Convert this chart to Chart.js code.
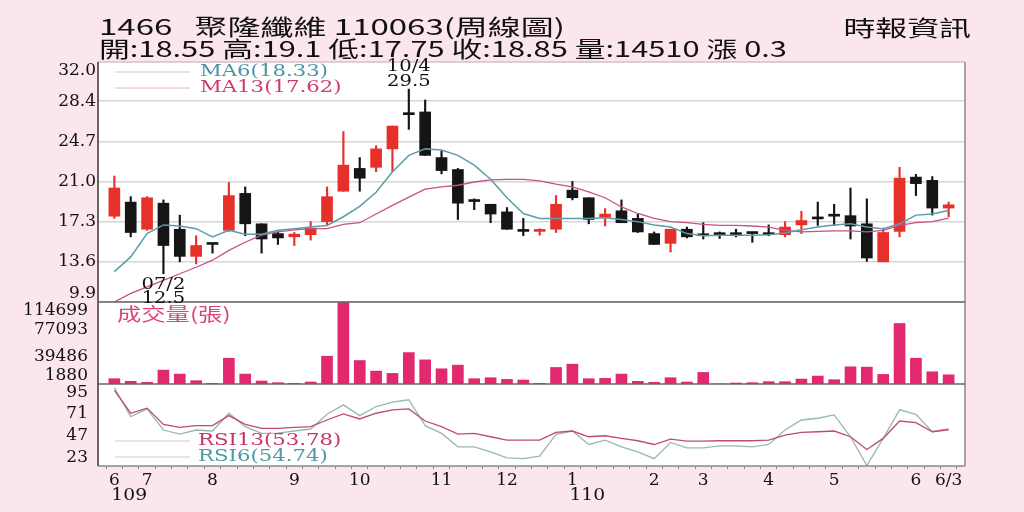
<!DOCTYPE html>
<html>
<head>
<meta charset="utf-8">
<script src="https://cdn.jsdelivr.net/npm/chart.js@4.4.0/dist/chart.umd.min.js"></script>
<style>
html, body { margin: 0; padding: 0; background: #fce6ee; }
#wrap { position: relative; width: 1024px; height: 512px; overflow: hidden; }
canvas { position: absolute; left: 0; top: 0; }
.hd { position: absolute; font-family: 'Noto Sans CJK TC'; font-size: 22px; line-height: 22px; color: #111;
      white-space: pre; transform: scaleX(1.4); transform-origin: 0 0; }
</style>
</head>
<body>
<div id="wrap">
  <canvas id="grafico" width="1024" height="512"></canvas>
  <div class="hd" style="left:99px;top:14px;transform:scaleX(1.5)">1466   聚隆纖維 110063(周線圖)</div>
  <div class="hd" style="left:99px;top:36px">開:18.55 高:19.1 低:17.75 收:18.85 量:14510 漲 0.3</div>
  <div class="hd" style="right:53px;top:15px;transform:scaleX(1.45);transform-origin:100% 0">時報資訊</div>
</div>
<script>
// 週線資料, 109/6 ~ 110/6/3
const monthIdx = [0, 2, 6, 11, 15, 20, 24, 28, 33, 36, 40, 44, 49, 51];
const monthText = ['6', '7', '8', '9', '10', '11', '12', '1', '2', '3', '4', '5', '6', '6/3'];
const yearIdx = [0, 28];
const yearText = ['109', '110'];

const opens = [17.8, 19.1, 16.6, 19.0, 16.6, 14.1, 15.2, 16.5, 19.9, 17.1,
  16.2, 15.9, 16.1, 17.3, 20.1, 22.2, 22.3, 24.0, 27.15, 27.4,
  23.2, 22.1, 19.15, 18.9, 18.2, 16.4, 16.4, 16.6, 20.2, 19.5,
  17.7, 18.3, 17.6, 16.2, 15.3, 16.6, 16.0, 16.1, 16.1, 16.2,
  16.1, 16.1, 17.0, 17.55, 17.8, 17.85, 17.1, 13.6, 16.4, 21.4,
  21.1, 18.55];
const highs = [21.5, 19.6, 19.6, 19.3, 17.9, 16.0, 15.3, 20.9, 20.5, 17.1,
  16.35, 16.3, 17.3, 20.5, 25.6, 23.2, 24.3, 26.1, 29.5, 28.5,
  23.8, 22.2, 19.4, 18.9, 18.6, 17.6, 16.65, 19.7, 21.0, 19.5,
  18.5, 19.3, 18.0, 16.35, 16.6, 16.8, 17.2, 16.35, 16.6, 16.35,
  17.0, 17.3, 18.25, 19.1, 18.9, 20.4, 19.4, 16.7, 22.3, 21.65,
  21.45, 19.1];
const lows = [17.6, 15.9, 16.5, 12.5, 13.6, 13.4, 14.4, 16.4, 16.0, 14.4,
  15.2, 15.1, 15.6, 17.0, 20.1, 20.1, 21.9, 21.9, 25.8, 23.4,
  21.7, 17.5, 18.4, 17.2, 16.6, 16.0, 16.05, 16.3, 19.3, 17.1,
  16.9, 17.2, 16.3, 15.2, 14.5, 15.8, 15.7, 15.75, 15.9, 15.4,
  16.0, 15.9, 16.2, 16.95, 16.95, 15.7, 13.65, 13.6, 15.9, 19.7,
  17.9, 17.75];
const closes = [20.4, 16.3, 19.5, 15.1, 14.1, 15.1, 15.2, 19.7, 17.1, 15.7,
  15.8, 16.15, 16.7, 19.6, 22.5, 21.3, 24.0, 26.1, 27.15, 23.4,
  22.0, 19.0, 19.15, 18.0, 16.6, 16.4, 16.5, 18.9, 19.5, 17.5,
  18.0, 17.2, 16.35, 15.2, 16.6, 15.9, 16.0, 16.1, 16.1, 16.2,
  16.1, 16.8, 17.4, 17.55, 17.8, 16.9, 13.95, 16.3, 21.3, 20.8,
  18.55, 18.85];
const ma6 = [12.7, 14.05, 16.2, 17.0, 16.9, 16.65, 15.9, 16.5, 16.15, 16.15,
  16.5, 16.65, 16.8, 16.95, 17.75, 18.7, 20.0, 21.9, 23.4, 24.0,
  23.9, 23.4, 22.5, 21.2, 19.5, 18.05, 17.6, 17.6, 17.6, 17.6,
  17.65, 17.5, 17.3, 17.0, 16.8, 16.2, 16.0, 16.05, 16.05, 16.05,
  16.1, 16.25, 16.55, 16.8, 17.0, 17.1, 16.8, 16.65, 17.1, 17.9,
  18.0, 18.33];
const ma13 = [9.9, 10.7, 11.3, 11.9, 12.5, 13.1, 13.75, 14.65, 15.4, 16.05,
  16.35, 16.55, 16.65, 16.65, 17.05, 17.2, 18.0, 18.8, 19.55, 20.3,
  20.5, 20.65, 20.95, 21.15, 21.2, 21.2, 21.05, 20.75, 20.5, 20.05,
  19.5, 18.65, 18.05, 17.6, 17.3, 17.2, 17.05, 16.95, 16.95, 16.9,
  16.8, 16.5, 16.35, 16.4, 16.45, 16.45, 16.35, 16.5, 16.95, 17.2,
  17.3, 17.62];
const volumes = [9160, 5520, 4150, 20990, 15530, 6430, 2790, 37360, 15530, 5975,
  3700, 2790, 4610, 40090, 114699, 34180, 19620, 16440, 45100, 35090,
  22800, 27810, 9160, 10520, 8250, 7340, 2790, 24630, 29170, 9160,
  9610, 15530, 5520, 4150, 10520, 4610, 17800, 1880, 3240, 3700,
  5060, 5060, 8700, 12800, 7790, 25530, 25080, 15070, 85130, 37360,
  18710, 14510];
const rsi13 = [97, 71.9, 77.5, 59.7, 56.4, 58.3, 58.3, 69.3, 59.7, 55.3,
  55.3, 56.4, 57.2, 64.5, 71.2, 65.6, 71.9, 75.6, 76.7, 63.4,
  57.2, 49.0, 49.8, 46.1, 42.4, 42.4, 42.4, 50.9, 52.4, 46.1,
  47.2, 44.3, 41.7, 37.6, 43.5, 41.3, 41.3, 41.7, 41.7, 41.7,
  42.4, 47.9, 50.9, 51.6, 52.4, 46.1, 32.1, 44.3, 63.4, 61.6,
  51.6, 53.78];
const rsi6 = [100, 68.2, 76.7, 53.5, 49.0, 53.5, 52.4, 71.9, 57.2, 49.8,
  50.0, 52.4, 54.6, 70.8, 81.1, 69.3, 79.3, 84.1, 86.7, 58.3,
  49.8, 35.0, 35.0, 29.5, 22.9, 22.1, 24.7, 48.7, 52.4, 37.6,
  42.4, 35.0, 29.5, 22.1, 39.8, 33.9, 33.9, 36.1, 36.1, 35.0,
  37.6, 53.5, 64.5, 66.4, 70.1, 46.1, 14.5, 44.3, 75.6, 70.8,
  51.6, 54.74];

const priceTicks = [9.9, 13.6, 17.3, 21.0, 24.7, 28.4, 32.0];
const volTicks = [1880, 39486, 77093, 114699];
const rsiTicks = [23, 47, 71, 95];
const hiDate = '10/4';
const loDate = '07/2';

const ROJO = '#e8302a';
const NEGRO = '#151515';
const SERIF = "'DejaVu Serif'";
const CJK = "'Noto Sans CJK TC'";

const colores = closes.map((c, i) => c > opens[i] ? ROJO : NEGRO);
const xy = arr => arr.map((v, i) => ({ x: i, y: v }));

// la primera y la última etiqueta quedan dentro del panel
function etiquetaInterna(t, i, n) {
  if (i === 0) return [t, ''];
  if (i === n - 1) return ['', t];
  return t;
}

function texto(ctx, t, x, y, font, color, align, sx, fondo) {
  ctx.save();
  ctx.translate(x, y);
  ctx.scale(sx, 1);
  ctx.font = font;
  ctx.textAlign = align;
  ctx.textBaseline = 'middle';
  if (fondo) {
    const w = ctx.measureText(t).width;
    ctx.fillStyle = fondo;
    ctx.fillRect(align === 'left' ? 0 : -w / 2, -7, w, 14);
  }
  ctx.fillStyle = color;
  ctx.fillText(t, 0, 0);
  ctx.restore();
}

function linea(ctx, x1, y1, x2, y2, color, w) {
  ctx.beginPath();
  ctx.moveTo(x1, y1);
  ctx.lineTo(x2, y2);
  ctx.strokeStyle = color;
  ctx.lineWidth = w;
  ctx.stroke();
}

const marco = {
  id: 'marco',
  beforeDraw(chart) {
    const { ctx, chartArea: a } = chart;
    ctx.save();
    ctx.fillStyle = '#fff';
    ctx.fillRect(a.left, a.top, a.width, a.height);
    ctx.restore();
  },
  afterDraw(chart) {
    const { ctx, chartArea: a, scales } = chart;
    const { x, yP, yV, yR } = scales;
    ctx.save();
    linea(ctx, a.left, a.top, a.right, a.top, '#d8c8cf', 1.5);
    linea(ctx, a.right, a.top, a.right, a.bottom, '#8a8a8a', 1.5);
    linea(ctx, a.left, a.bottom, a.right, a.bottom, '#8a8a8a', 1.5);
    linea(ctx, a.left, a.top, a.left, a.bottom, '#666', 2);
    linea(ctx, a.left, yV.top, a.right, yV.top, '#666', 1.5);
    linea(ctx, a.left, yR.top, a.right, yR.top, '#666', 1.5);

    // leyendas
    const fl = '17px ' + SERIF;
    linea(ctx, a.left + 17, yP.top + 10, a.left + 92, yP.top + 10, '#c9c9c9', 1);
    linea(ctx, a.left + 17, yP.top + 26, a.left + 92, yP.top + 26, '#e3b6c8', 1);
    texto(ctx, 'MA6(' + ma6[ma6.length - 1].toFixed(2) + ')', a.left + 102, yP.top + 10, fl, '#4d93a3', 'left', 1.25);
    texto(ctx, 'MA13(' + ma13[ma13.length - 1].toFixed(2) + ')', a.left + 102, yP.top + 26, fl, '#d03a6c', 'left', 1.25);
    texto(ctx, '成交量(張)', a.left + 19, yV.top + 12, '18px ' + CJK, '#d9457b', 'left', 1.35);
    linea(ctx, a.left + 17, yR.top + 57, a.left + 92, yR.top + 57, '#c9c9c9', 1);
    linea(ctx, a.left + 17, yR.top + 73, a.left + 92, yR.top + 73, '#c9c9c9', 1);
    texto(ctx, 'RSI13(' + rsi13[rsi13.length - 1].toFixed(2) + ')', a.left + 100, yR.top + 57, fl, '#c8336a', 'left', 1.25, '#fff');
    texto(ctx, 'RSI6(' + rsi6[rsi6.length - 1].toFixed(2) + ')', a.left + 100, yR.top + 73, fl, '#4f98a8', 'left', 1.25, '#fff');

    // 最高 / 最低
    const hi = Math.max(...highs), ih = highs.indexOf(hi);
    const lo = Math.min(...lows), il = lows.indexOf(lo);
    const xh = x.getPixelForValue(ih), yh = yP.getPixelForValue(hi);
    texto(ctx, hiDate, xh, yh - 23, fl, '#111', 'center', 1.15);
    texto(ctx, hi.toFixed(1), xh, yh - 8, fl, '#111', 'center', 1.15);
    const xl = x.getPixelForValue(il), yl = yP.getPixelForValue(lo);
    texto(ctx, loDate, xl, yl + 11, fl, '#111', 'center', 1.15);
    texto(ctx, lo.toFixed(1), xl, yl + 25, fl, '#111', 'center', 1.15);

    // 年
    yearIdx.forEach((k, j) => {
      texto(ctx, yearText[j], x.getPixelForValue(k) - 3, x.top + 30, '17px ' + SERIF, '#111', 'left', 1.1);
    });
    ctx.restore();
  }
};

const fuenteEje = { family: SERIF, size: 17, lineHeight: 1.0 };

const ctx = document.getElementById('grafico').getContext('2d');
new Chart(ctx, {
  type: 'bar',
  data: {
    datasets: [
      { type: 'line', data: xy(ma6), yAxisID: 'yP', borderColor: '#5d9ca8', borderWidth: 1.5, pointRadius: 0, order: 0 },
      { type: 'line', data: xy(ma13), yAxisID: 'yP', borderColor: '#c65384', borderWidth: 1.3, pointRadius: 0, order: 0 },
      { data: opens.map((o, i) => ({ x: i, y: [o, closes[i]] })), yAxisID: 'yP', backgroundColor: colores,
        barThickness: 11, minBarLength: 2, grouped: false, order: 1 },
      { data: lows.map((l, i) => ({ x: i, y: [l, highs[i]] })), yAxisID: 'yP', backgroundColor: colores,
        barThickness: 1.5, grouped: false, order: 2 },
      { data: xy(volumes), yAxisID: 'yV', base: volTicks[0], backgroundColor: '#e2286f',
        barThickness: 11, grouped: false, order: 1 },
      { type: 'line', data: xy(rsi13), yAxisID: 'yR', borderColor: '#c04a74', borderWidth: 1.3, pointRadius: 0, order: 0 },
      { type: 'line', data: xy(rsi6), yAxisID: 'yR', borderColor: '#98b8b2', borderWidth: 1.3, pointRadius: 0, order: 0 }
    ]
  },
  options: {
    responsive: false,
    animation: false,
    layout: { padding: { left: 0, right: 59, top: 62, bottom: 0 } },
    plugins: { legend: { display: false }, tooltip: { enabled: false } },
    scales: {
      x: {
        type: 'linear', min: -1, max: 52, offset: false, position: 'bottom',
        afterBuildTicks: s => { s.ticks = closes.map((_, i) => ({ value: i })); },
        afterFit: s => { s.height = 46; },
        grid: { drawOnChartArea: false, drawTicks: true, tickLength: 3, color: '#888' },
        border: { display: false },
        ticks: {
          autoSkip: false, maxRotation: 0, minRotation: 0, padding: 1, color: '#111',
          font: { family: SERIF, size: 17 },
          callback: v => { const k = monthIdx.indexOf(v); return k >= 0 ? monthText[k] : ''; }
        }
      },
      yR: {
        position: 'left', stack: 'panel', stackWeight: 82, weight: 1, min: 14, max: 104,
        afterBuildTicks: s => { s.ticks = rsiTicks.map(v => ({ value: v })); },
        afterFit: s => { s.width = 98; },
        grid: { display: false }, border: { display: false },
        ticks: { autoSkip: false, color: '#111', padding: 2, font: fuenteEje, callback: v => String(v) }
      },
      yV: {
        position: 'left', stack: 'panel', stackWeight: 82, weight: 2, min: volTicks[0], max: volTicks[3],
        afterBuildTicks: s => { s.ticks = volTicks.map(v => ({ value: v })); },
        afterFit: s => { s.width = 98; },
        grid: { display: false }, border: { display: false },
        ticks: { autoSkip: false, color: '#111', padding: 2, font: fuenteEje,
          callback: (v, i, t) => etiquetaInterna(String(v), i, t.length) }
      },
      yP: {
        position: 'left', stack: 'panel', stackWeight: 240, weight: 3, min: priceTicks[0], max: priceTicks[6],
        afterBuildTicks: s => { s.ticks = priceTicks.map(v => ({ value: v })); },
        afterFit: s => { s.width = 98; },
        grid: { color: '#d6d6d6', lineWidth: 1.5, drawTicks: false }, border: { display: false },
        ticks: { autoSkip: false, color: '#111', padding: 2, font: fuenteEje,
          callback: (v, i, t) => etiquetaInterna(v.toFixed(1), i, t.length) }
      }
    }
  },
  plugins: [marco]
});
</script>
</body>
</html>
